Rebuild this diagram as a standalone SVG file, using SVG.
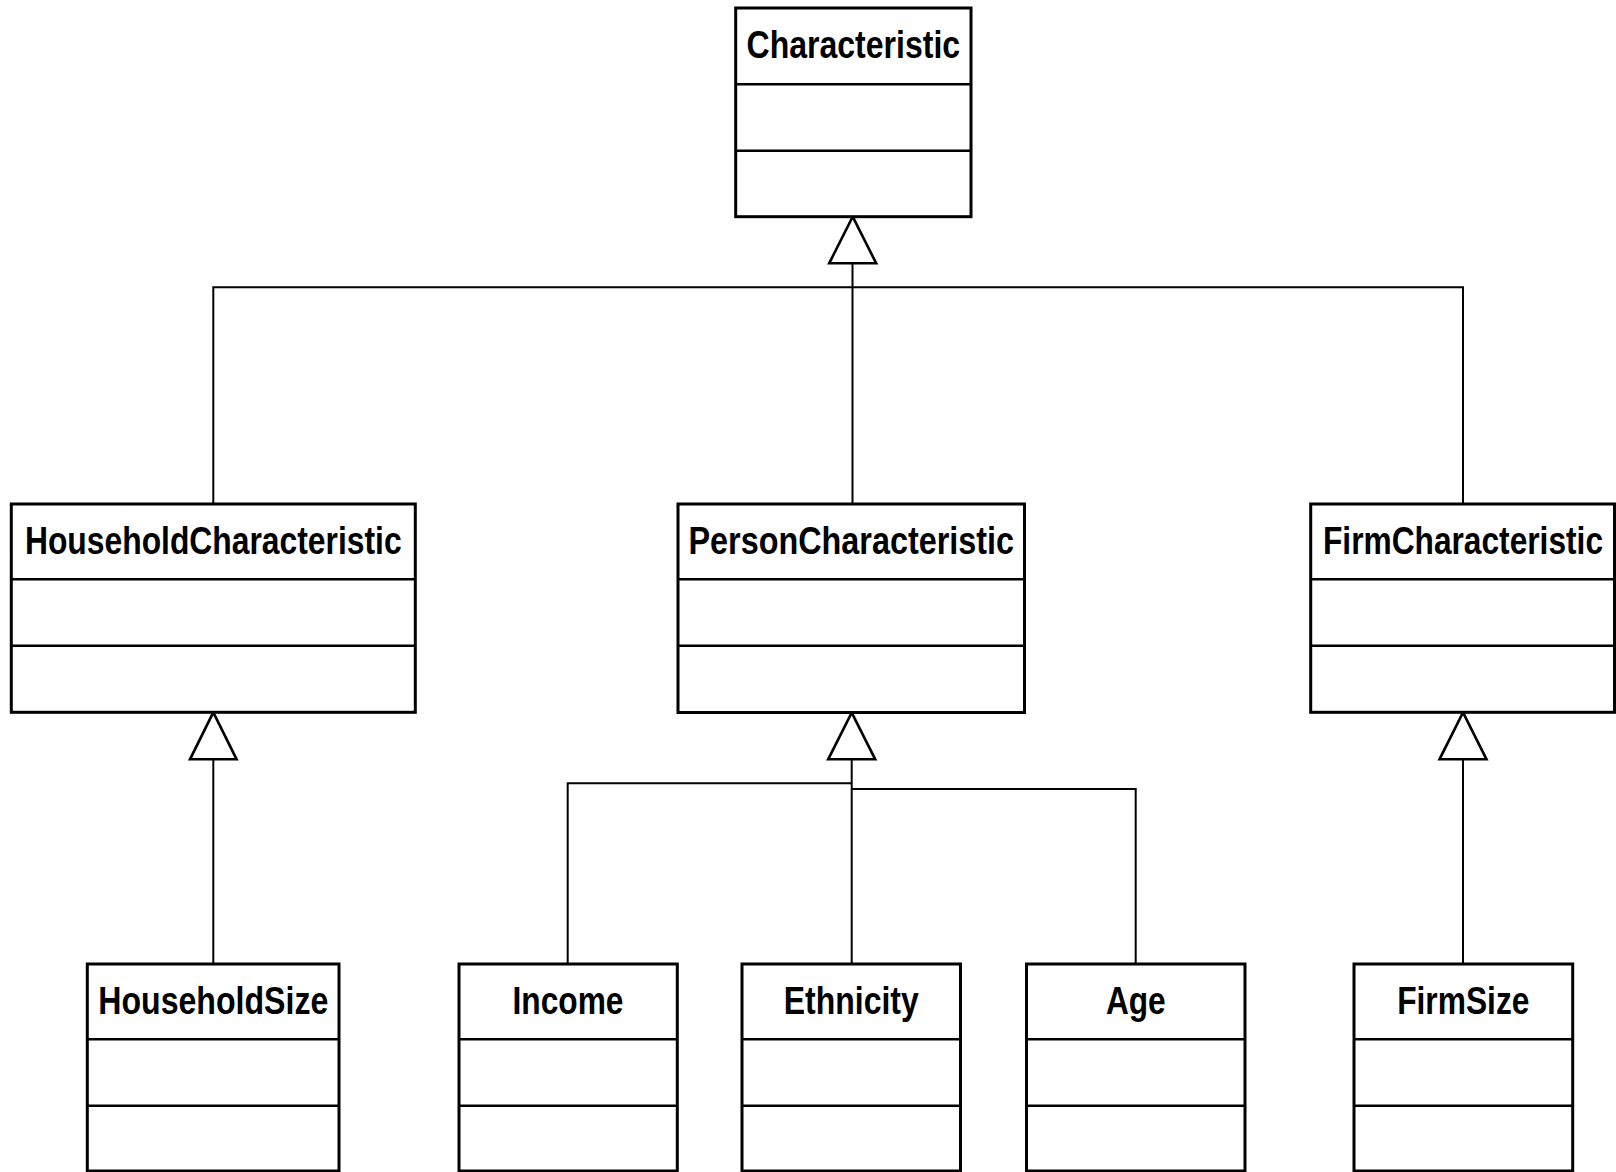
<svg xmlns="http://www.w3.org/2000/svg" width="1616" height="1172" viewBox="0 0 1616 1172">
<style>
.box{fill:#fff;stroke:#000;stroke-width:3}
.div{stroke:#000;stroke-width:2.6;fill:none}
.t{font-family:"Liberation Sans Narrow","Arial Narrow","Liberation Sans",sans-serif;font-weight:bold;font-size:39px;text-anchor:middle;fill:#000}
.c{stroke:#000;stroke-width:2;fill:none}
.tri{fill:#fff;stroke:#000;stroke-width:2.6;stroke-linejoin:miter}
</style>
<rect width="1616" height="1172" fill="#fff"/>
<g id="connectors">
<path class="c" d="M852.5,263.3V287.3M213.3,504V287.3H1463V504M852.5,287.3V504"/>
<path class="c" d="M213.3,759.3V964"/>
<path class="c" d="M851.7,759.3V964M567.7,964V783.3H851.7M851.7,789H1135.7V964"/>
<path class="c" d="M1463,759.3V964"/>
<polygon class="tri" points="852.7,216.7 876.2,263.3 829.2,263.3"/>
<polygon class="tri" points="213.3,712.3 236.6,759.3 190,759.3"/>
<polygon class="tri" points="851.7,712.7 875.2,759.3 828.2,759.3"/>
<polygon class="tri" points="1463,712.3 1486.5,759.3 1439.5,759.3"/>
</g>
<g id="Characteristic">
<rect class="box" x="735.7" y="8" width="235.3" height="208.7"/>
<path class="div" d="M735.7,84.3H971M735.7,150.7H971"/>
<text class="t" x="853.3" y="58.3" textLength="213.6" lengthAdjust="spacingAndGlyphs">Characteristic</text>
</g>
<g id="HouseholdCharacteristic">
<rect class="box" x="11.3" y="504" width="404" height="208.3"/>
<path class="div" d="M11.3,579.3H415.3M11.3,645.7H415.3"/>
<text class="t" x="213.3" y="554" textLength="376.7" lengthAdjust="spacingAndGlyphs">HouseholdCharacteristic</text>
</g>
<g id="PersonCharacteristic">
<rect class="box" x="678" y="504" width="346.5" height="208.5"/>
<path class="div" d="M678,579.3H1024.5M678,645.7H1024.5"/>
<text class="t" x="851.3" y="554" textLength="325.6" lengthAdjust="spacingAndGlyphs">PersonCharacteristic</text>
</g>
<g id="FirmCharacteristic">
<rect class="box" x="1310.7" y="504" width="303.8" height="208.3"/>
<path class="div" d="M1310.7,579.3H1614.5M1310.7,645.7H1614.5"/>
<text class="t" x="1463" y="554" textLength="280" lengthAdjust="spacingAndGlyphs">FirmCharacteristic</text>
</g>
<g id="HouseholdSize">
<rect class="box" x="87.3" y="964" width="251.7" height="207"/>
<path class="div" d="M87.3,1039.3H339M87.3,1105.7H339"/>
<text class="t" x="213.3" y="1014" textLength="230" lengthAdjust="spacingAndGlyphs">HouseholdSize</text>
</g>
<g id="Income">
<rect class="box" x="459" y="964" width="218.3" height="207"/>
<path class="div" d="M459,1039.3H677.3M459,1105.7H677.3"/>
<text class="t" x="568" y="1014" textLength="111" lengthAdjust="spacingAndGlyphs">Income</text>
</g>
<g id="Ethnicity">
<rect class="box" x="742" y="964" width="218.5" height="207"/>
<path class="div" d="M742,1039.3H960.5M742,1105.7H960.5"/>
<text class="t" x="851.3" y="1014" textLength="135" lengthAdjust="spacingAndGlyphs">Ethnicity</text>
</g>
<g id="Age">
<rect class="box" x="1026.5" y="964" width="218.5" height="207"/>
<path class="div" d="M1026.5,1039.3H1245M1026.5,1105.7H1245"/>
<text class="t" x="1135.8" y="1014" textLength="59.8" lengthAdjust="spacingAndGlyphs">Age</text>
</g>
<g id="FirmSize">
<rect class="box" x="1354" y="964" width="218.7" height="207"/>
<path class="div" d="M1354,1039.3H1572.7M1354,1105.7H1572.7"/>
<text class="t" x="1463.3" y="1014" textLength="132.3" lengthAdjust="spacingAndGlyphs">FirmSize</text>
</g>
</svg>
